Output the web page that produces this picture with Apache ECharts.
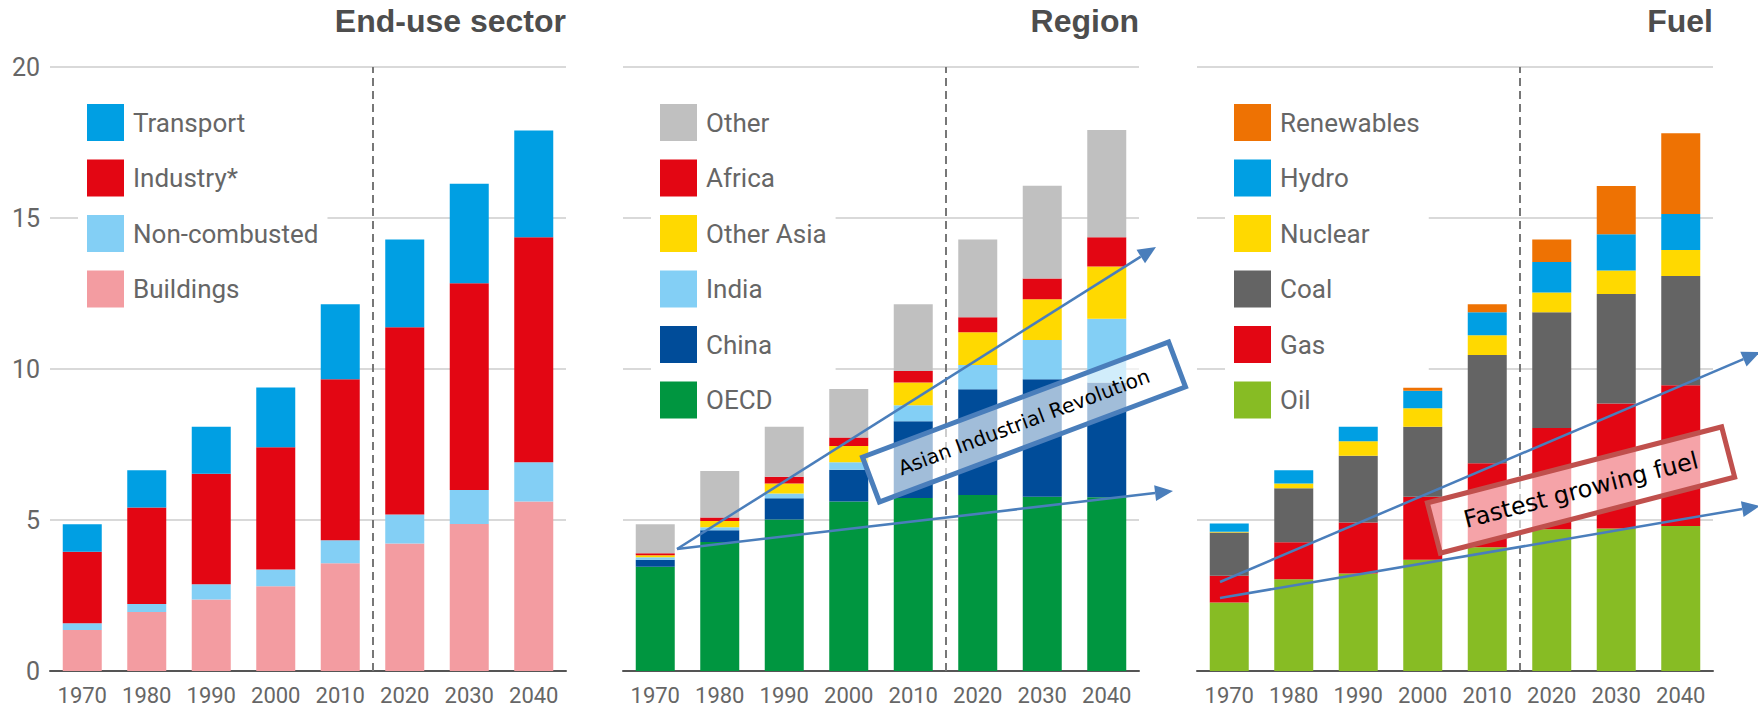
<!DOCTYPE html>
<html><head><meta charset="utf-8">
<script src="https://cdn.jsdelivr.net/npm/echarts@6/dist/echarts.min.js"></script>
<style>html,body{margin:0;padding:0;background:#fff}#c{width:1758px;height:710px}</style>
</head><body><div id="c"></div>
<script>
// ---- data ----
const years = ['1970','1980','1990','2000','2010','2020','2030','2040'];
const yMin = 0, yMax = 20, yStep = 5;
const projectionStartIndex = 5; // dashed divider before 2020
const panelTitles = ['End-use sector', 'Region', 'Fuel'];
// End-use sector
const buildings    = [1.36,1.95,2.37,2.81,3.57,4.22,4.87,5.61];
const nonCombusted = [0.22,0.27,0.50,0.55,0.76,0.96,1.12,1.30];
const industry     = [2.37,3.19,3.66,4.05,5.33,6.20,6.85,7.45];
const transport    = [0.91,1.24,1.56,1.98,2.48,2.91,3.29,3.54];
// Region
const oecd        = [3.45,4.27,5.02,5.61,5.73,5.83,5.77,5.75];
const china       = [0.23,0.39,0.70,1.05,2.54,3.50,3.89,3.80];
const india       = [0.09,0.10,0.16,0.25,0.53,0.80,1.30,2.11];
const otherAsia   = [0.06,0.21,0.33,0.54,0.75,1.09,1.35,1.73];
const africa      = [0.07,0.11,0.22,0.28,0.38,0.49,0.69,0.97];
const otherRegion = [0.96,1.54,1.66,1.61,2.21,2.58,3.07,3.55];
// Fuel
const oil        = [2.27,3.04,3.23,3.68,4.10,4.69,4.72,4.80];
const gas        = [0.88,1.22,1.69,2.09,2.78,3.36,4.14,4.66];
const coal       = [1.44,1.79,2.21,2.32,3.58,3.83,3.62,3.62];
const nuclear    = [0.02,0.16,0.48,0.61,0.66,0.65,0.78,0.86];
const hydro      = [0.27,0.44,0.48,0.58,0.76,1.01,1.20,1.19];
const renewables = [0.00,0.00,0.00,0.10,0.26,0.75,1.60,2.68];

// ---- panels (bottom-to-top stacking order) ----
const panels = [
  [['Buildings', buildings, '#f39ca1'], ['Non-combusted', nonCombusted, '#83cff5'],
   ['Industry*', industry, '#e30613'], ['Transport', transport, '#009fe3']],
  [['OECD', oecd, '#009640'], ['China', china, '#004c99'], ['India', india, '#83cff5'],
   ['Other Asia', otherAsia, '#ffd900'], ['Africa', africa, '#e30613'], ['Other', otherRegion, '#c0c0c0']],
  [['Oil', oil, '#87bc24'], ['Gas', gas, '#e30613'], ['Coal', coal, '#646464'],
   ['Nuclear', nuclear, '#ffd900'], ['Hydro', hydro, '#009fe3'], ['Renewables', renewables, '#ee7203']]
];

const FONT = 'Roboto';
const W = 1758;
const gridLeft = [50, 623, 1197], gridW = 516, gridTop = 67, gridH = 604;
const legendLeft = [78, 651, 1225];

const grid = [], xAxis = [], yAxis = [], series = [], legend = [], title = [];
panels.forEach((p, i) => {
  grid.push({left: gridLeft[i], top: gridTop, width: gridW, height: gridH});
  xAxis.push({type: 'category', gridIndex: i, data: years, boundaryGap: true,
    axisLine: {lineStyle: {color: '#555', width: 2}}, axisTick: {show: false},
    axisLabel: {fontSize: 22, color: '#666', margin: 13, fontFamily: FONT}});
  xAxis.push({type: 'value', gridIndex: i, min: 0, max: years.length, show: false});
  yAxis.push({type: 'value', gridIndex: i, min: yMin, max: yMax, interval: yStep,
    axisLine: {show: false}, axisTick: {show: false},
    axisLabel: {show: i === 0, fontSize: 25, color: '#666', margin: 10, fontFamily: FONT},
    splitLine: {lineStyle: {color: '#d9d9d9', width: 2}}});
  p.forEach(([name, vals, color]) => {
    series.push({type: 'bar', name, data: vals, stack: 'p' + i, xAxisIndex: 2 * i, yAxisIndex: i,
      barWidth: 39, itemStyle: {color}, emphasis: {disabled: true}, z: 3});
  });
  series.push({type: 'line', name: 'divider' + i, data: [], xAxisIndex: 2 * i + 1, yAxisIndex: i, z: 4,
    markLine: {silent: true, symbol: 'none', label: {show: false},
      lineStyle: {type: [8, 5], color: '#777', width: 2},
      data: [{xAxis: projectionStartIndex}]}});
  legend.push({orient: 'vertical', left: legendLeft[i], top: 100, z: 1,
    itemWidth: 37, itemHeight: 37, itemGap: 18.5, icon: 'rect', selectedMode: false,
    backgroundColor: '#fff', padding: [4, 9, 4, 9],
    data: p.map(s => s[0]).reverse(),
    textStyle: {fontSize: 26, color: '#666', fontFamily: FONT, padding: [0, 0, 0, 4]}});
  title.push({text: panelTitles[i], right: W - (gridLeft[i] + gridW), top: 5, padding: 0,
    textStyle: {fontSize: 32, fontWeight: 'bold', color: '#4d4d4d', fontFamily: 'Liberation Sans'}});
});

// ---- annotations ----
const ARROW = '#4a7ebb';
function arrow(x1, y1, x2, y2) {
  const a = Math.atan2(y2 - y1, x2 - x1), L = 18, H = 8;
  const c = Math.cos(a), s = Math.sin(a);
  const bx = x2 - L * c, by = y2 - L * s;
  return [
    {type: 'line', z: 100, shape: {x1, y1, x2: bx, y2: by}, style: {stroke: ARROW, lineWidth: 2.5}},
    {type: 'polygon', z: 100, shape: {points: [[x2, y2], [bx + H * s, by - H * c], [bx - H * s, by + H * c]]},
      style: {fill: ARROW}}
  ];
}
function box(cx, cy, w, h, deg, stroke, text, font) {
  return {type: 'group', x: cx, y: cy, rotation: deg * Math.PI / 180, z: 100, children: [
    {type: 'rect', z: 100, shape: {x: -w / 2, y: -h / 2, width: w, height: h},
      style: {fill: 'rgba(255,255,255,0.63)', stroke, lineWidth: 5}},
    {type: 'text', z: 101, style: {text, x: 0, y: 0, align: 'center', verticalAlign: 'middle',
      textAlign: 'center', textVerticalAlign: 'middle', font, fill: '#000'}}
  ]};
}
const graphic = [].concat(
  arrow(677, 549, 1156, 247),
  arrow(677, 549, 1173, 491),
  arrow(1220, 582, 1760, 352),
  arrow(1220, 598, 1760, 506),
  [box(1024, 422, 327, 48, 20.6, '#4a7ebb', 'Asian Industrial Revolution', '20px "DejaVu Sans"'),
   box(1581, 490, 304, 52, 14.5, '#c0504d', 'Fastest growing fuel', '24px "DejaVu Sans"')]
);

const chart = echarts.init(document.getElementById('c'), null, {renderer: 'svg'});
chart.setOption({animation: false, backgroundColor: '#fff', title, legend, grid, xAxis, yAxis, series, graphic});
</script></body></html>
